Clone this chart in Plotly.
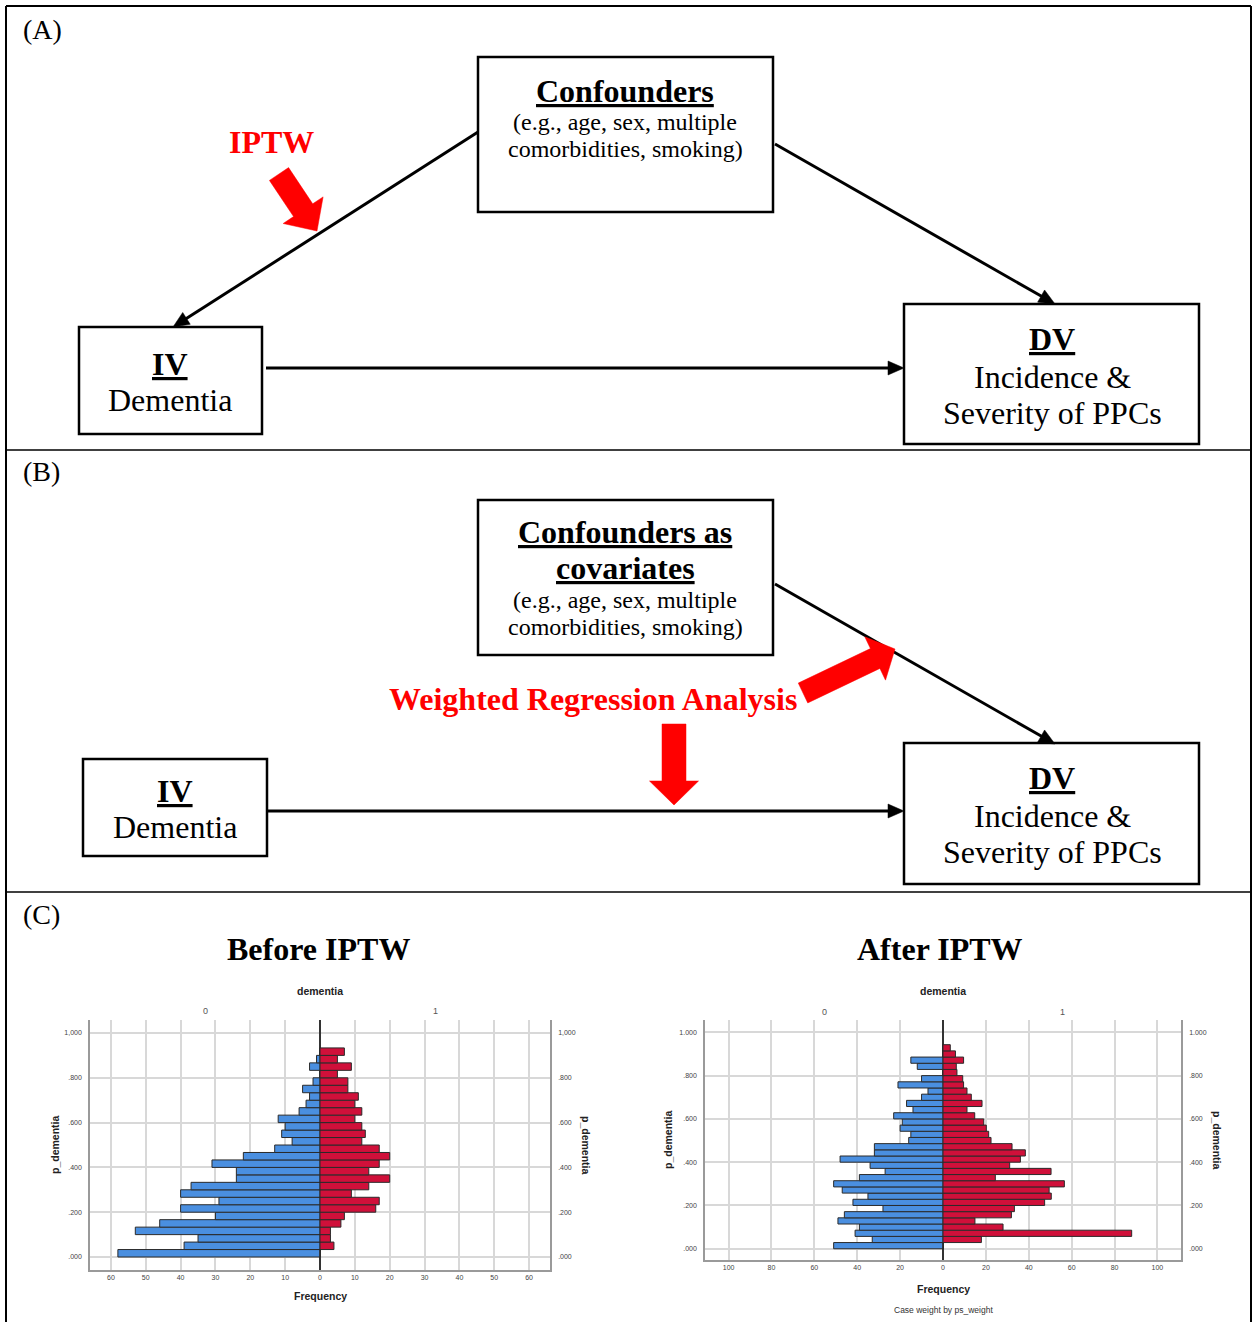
import math
import plotly.graph_objects as go

W, H = 1257, 1322

# ---------------- DATA ----------------
# Before IPTW (bins of width 1/30 starting at 0), bottom to top
before_bin_width = 1 / 30
before_dementia0 = [58, 39, 35, 53, 46, 30, 40, 29, 40, 37, 24, 24, 31, 22, 13, 8, 11, 10,
                    12, 6, 4, 3, 5, 2, 0, 3, 1, 0]
before_dementia1 = [0, 4, 3, 3, 6, 7, 16, 17, 9, 14, 20, 14, 17, 20, 17, 12, 13, 12,
                    10, 12, 10, 11, 8, 8, 5, 9, 5, 7]

# After IPTW (weighted, bins of width 1/35 starting at 0), bottom to top
after_bin_width = 1 / 35
after_dementia0 = [51, 33, 41, 39, 49, 46, 28, 42, 35, 47, 51, 39, 27, 34, 48, 32, 32, 16,
                   15, 20, 19, 23, 14, 17, 10, 7, 21, 10, 0, 12, 15, 0, 0]
after_dementia1 = [0, 17.9, 88, 28, 14.9, 31.9, 33.3, 47.4, 50.5, 49.5, 56.6, 24.4, 50.4,
                   31.1, 36.1, 38.4, 32.2, 22.4, 21.3, 20.2, 19, 14.8, 11.2, 18.2, 13.2,
                   11.2, 9.6, 9.2, 6.5, 6.2, 9.6, 5.8, 3.4]

before_x_ticks = [-60, -50, -40, -30, -20, -10, 0, 10, 20, 30, 40, 50, 60]
after_x_ticks = [-100, -80, -60, -40, -20, 0, 20, 40, 60, 80, 100]
y_ticks = [0, 0.2, 0.4, 0.6, 0.8, 1.0]
y_tick_labels_before = [".000", ".200", ".400", ".600", ".800", "1,000"]
y_tick_labels_after = [".000", ".200", ".400", ".600", ".800", "1.000"]

BLUE = "#4a8fe0"
RED = "#d0103a"
EDGE = "#2a2a2a"
GRID = "#d8d8d8"
SERIF = "Liberation Serif"
SANS = "Liberation Sans"

fig = go.Figure()

# canvas axis (pixel coordinates) for the diagram
fig.add_trace(go.Scatter(x=[0], y=[0], mode="markers", marker=dict(opacity=0),
                         hoverinfo="skip", showlegend=False, xaxis="x", yaxis="y"))


def centers(n, bw):
    return [(i + 0.5) * bw for i in range(n)]


def add_pyramid(xa, ya, left, right, bw):
    yc = centers(len(left), bw)
    fig.add_trace(go.Bar(orientation="h", y=yc, x=[-v for v in left], width=bw,
                         marker=dict(color=BLUE, line=dict(color=EDGE, width=1)),
                         xaxis=xa, yaxis=ya, showlegend=False, hoverinfo="skip"))
    fig.add_trace(go.Bar(orientation="h", y=yc, x=right, width=bw,
                         marker=dict(color=RED, line=dict(color=EDGE, width=1)),
                         xaxis=xa, yaxis=ya, showlegend=False, hoverinfo="skip"))


add_pyramid("x2", "y2", before_dementia0, before_dementia1, before_bin_width)
add_pyramid("x3", "y3", after_dementia0, after_dementia1, after_bin_width)
# empty traces to activate right-side mirror axes
fig.add_trace(go.Scatter(x=[None], y=[None], xaxis="x2", yaxis="y4", showlegend=False))
fig.add_trace(go.Scatter(x=[None], y=[None], xaxis="x3", yaxis="y5", showlegend=False))

tickfont = dict(family=SANS, size=7, color="#444")


def xax(domain, rng, ticks, anchor):
    return dict(domain=domain, range=rng, tickvals=ticks, ticktext=[str(abs(t)) for t in ticks],
                showgrid=True, gridcolor=GRID, gridwidth=1.5, zeroline=True,
                zerolinecolor="#333", zerolinewidth=1.5, showline=True, linecolor="#9a9a9a",
                linewidth=1.5, ticks="", tickfont=tickfont, anchor=anchor, fixedrange=True)


def yax(domain, rng, labels, anchor, side="left", overlay=None):
    d = dict(domain=domain, range=rng, tickvals=y_ticks, ticktext=labels,
             showgrid=(overlay is None), gridcolor=GRID, gridwidth=1.5, zeroline=False,
             showline=True, linecolor="#9a9a9a", linewidth=1.5, ticks="",
             tickfont=tickfont, anchor=anchor, side=side, fixedrange=True, ticklabelstandoff=5)
    if overlay:
        d["overlaying"] = overlay
    return d


bx_dom = [90 / W, 550 / W]
by_dom = [1 - 1270 / H, 1 - 1020 / H]
ax_dom = [705 / W, 1181 / W]
ay_dom = [1 - 1260 / H, 1 - 1020 / H]

layout = dict(
    width=W, height=H, margin=dict(l=0, r=0, t=0, b=0),
    paper_bgcolor="white", plot_bgcolor="white", barmode="overlay",
    xaxis=dict(domain=[0, 1], range=[0, W], visible=False, fixedrange=True),
    yaxis=dict(domain=[0, 1], range=[H, 0], visible=False, fixedrange=True),
    xaxis2=xax(bx_dom, [-66, 66], before_x_ticks, "y2"),
    yaxis2=yax(by_dom, [-0.058, 1.058], y_tick_labels_before, "x2"),
    yaxis4=yax(by_dom, [-0.058, 1.058], y_tick_labels_before, "x2", side="right", overlay="y2"),
    xaxis3=xax(ax_dom, [-111, 111], after_x_ticks, "y3"),
    yaxis3=yax(ay_dom, [-0.052, 1.057], y_tick_labels_after, "x3"),
    yaxis5=yax(ay_dom, [-0.052, 1.057], y_tick_labels_after, "x3", side="right", overlay="y3"),
)
fig.update_layout(**layout)

shapes = []
annos = []


def line(x0, y0, x1, y1, w=3, color="black"):
    shapes.append(dict(type="line", xref="x", yref="y", x0=x0, y0=y0, x1=x1, y1=y1,
                       line=dict(color=color, width=w), layer="above"))


def rect(x0, y0, x1, y1, w=2.5):
    shapes.append(dict(type="rect", xref="x", yref="y", x0=x0, y0=y0, x1=x1, y1=y1,
                       line=dict(color="black", width=w), fillcolor="rgba(0,0,0,0)", layer="above"))


def poly(pts, color):
    p = "M " + " L ".join(f"{x:.2f},{y:.2f}" for x, y in pts) + " Z"
    shapes.append(dict(type="path", xref="x", yref="y", path=p, fillcolor=color,
                       line=dict(color=color, width=0.5), layer="above"))


def arrow_line(x0, y0, x1, y1, hl=16, hw=14, w=3):
    dx, dy = x1 - x0, y1 - y0
    L = math.hypot(dx, dy)
    ux, uy = dx / L, dy / L
    px, py = -uy, ux
    bx, by = x1 - ux * hl, y1 - uy * hl
    line(x0, y0, bx + ux * 2, by + uy * 2, w)
    poly([(x1, y1), (bx + px * hw / 2, by + py * hw / 2), (bx - px * hw / 2, by - py * hw / 2)], "black")


def block_arrow(x0, y0, x1, y1, sw, hw, hl, color="#ff0000"):
    dx, dy = x1 - x0, y1 - y0
    L = math.hypot(dx, dy)
    ux, uy = dx / L, dy / L
    px, py = -uy, ux
    bx, by = x1 - ux * hl, y1 - uy * hl
    pts = [(x0 + px * sw / 2, y0 + py * sw / 2), (bx + px * sw / 2, by + py * sw / 2),
           (bx + px * hw / 2, by + py * hw / 2), (x1, y1),
           (bx - px * hw / 2, by - py * hw / 2), (bx - px * sw / 2, by - py * sw / 2),
           (x0 - px * sw / 2, y0 - py * sw / 2)]
    poly(pts, color)


def text(x, y, s, size, family=SERIF, color="black", bold=False, angle=0, xanchor="center"):
    t = f"<b>{s}</b>" if bold else s
    annos.append(dict(xref="x", yref="y", x=x, y=y, text=t, showarrow=False, xanchor=xanchor,
                      yanchor="middle", textangle=angle,
                      font=dict(family=family, size=size, color=color)))


# frame
line(6, 6, 1251, 6, 2)
line(6, 6, 6, H, 2)
line(1251, 6, 1251, H, 2)
line(6, 450, 1251, 450, 1.5)
line(6, 892, 1251, 892, 1.5)

BIG = 32
SMALL = 24

# ---------- Panel A ----------
text(21, 29, "(A)", 28, xanchor="left")
rect(478, 57, 773, 212)
text(625, 91, "<u>Confounders</u>", BIG, bold=True)
text(625, 122, "(e.g., age, sex, multiple", SMALL)
text(625, 149, "comorbidities, smoking)", SMALL)
rect(79, 327, 262, 434)
text(170, 364, "<u>IV</u>", BIG, bold=True)
text(170, 400, "Dementia", BIG)
rect(904, 304, 1199, 444)
text(1052, 339, "<u>DV</u>", BIG, bold=True)
text(1052, 377, "Incidence &amp;", BIG)
text(1052, 413, "Severity of PPCs", BIG)
arrow_line(478, 132, 173, 327)
arrow_line(775, 144, 1055, 304)
arrow_line(266, 368, 904, 368)
text(271, 142, "IPTW", BIG, color="#ff0000", bold=True)
block_arrow(279, 174, 317, 231, 23, 48, 25)

# ---------- Panel B ----------
text(21, 471, "(B)", 28, xanchor="left")
rect(478, 500, 773, 655)
text(625, 532, "<u>Confounders as</u>", BIG, bold=True)
text(625, 568, "<u>covariates</u>", BIG, bold=True)
text(625, 600, "(e.g., age, sex, multiple", SMALL)
text(625, 627, "comorbidities, smoking)", SMALL)
rect(83, 759, 267, 856)
text(175, 791, "<u>IV</u>", BIG, bold=True)
text(175, 827, "Dementia", BIG)
rect(904, 743, 1199, 884)
text(1052, 778, "<u>DV</u>", BIG, bold=True)
text(1052, 816, "Incidence &amp;", BIG)
text(1052, 852, "Severity of PPCs", BIG)
arrow_line(775, 584, 1055, 744)
arrow_line(268, 811, 904, 811)
text(593, 699, "Weighted Regression Analysis", BIG, color="#ff0000", bold=True)
block_arrow(803, 693, 895, 649, 22, 48, 22)
block_arrow(674, 724, 674, 805, 24, 49, 24)

# ---------- Panel C ----------
text(21, 914, "(C)", 28, xanchor="left")
text(318, 949, "Before IPTW", BIG, bold=True)
text(940, 949, "After IPTW", BIG, bold=True)

# histogram labels (left)
text(320, 991, "dementia", 10.5, family=SANS, color="#222", bold=True)
annos.append(dict(xref="x2", yref="y", x=-33, y=1011, text="0", showarrow=False,
                  font=dict(family=SANS, size=9, color="#555")))
annos.append(dict(xref="x2", yref="y", x=33, y=1011, text="1", showarrow=False,
                  font=dict(family=SANS, size=9, color="#555")))
text(320, 1296, "Frequency", 10.5, family=SANS, color="#222", bold=True)
text(55, 1145, "p_dementia", 10.5, family=SANS, color="#222", bold=True, angle=-90)
text(586, 1145, "p_dementia", 10.5, family=SANS, color="#222", bold=True, angle=90)

# histogram labels (right)
text(943, 991, "dementia", 10.5, family=SANS, color="#222", bold=True)
annos.append(dict(xref="x3", yref="y", x=-55.5, y=1012, text="0", showarrow=False,
                  font=dict(family=SANS, size=9, color="#555")))
annos.append(dict(xref="x3", yref="y", x=55.5, y=1012, text="1", showarrow=False,
                  font=dict(family=SANS, size=9, color="#555")))
text(943, 1289, "Frequency", 10.5, family=SANS, color="#222", bold=True)
text(943, 1310, "Case weight by ps_weight", 8.5, family=SANS, color="#333")
text(668, 1140, "p_dementia", 10.5, family=SANS, color="#222", bold=True, angle=-90)
text(1217, 1140, "p_dementia", 10.5, family=SANS, color="#222", bold=True, angle=90)

fig.update_layout(shapes=shapes, annotations=annos)

fig.write_html("out.html", config={"displayModeBar": False},
               post_script="document.body.style.margin='0';document.body.style.overflow='hidden';")
